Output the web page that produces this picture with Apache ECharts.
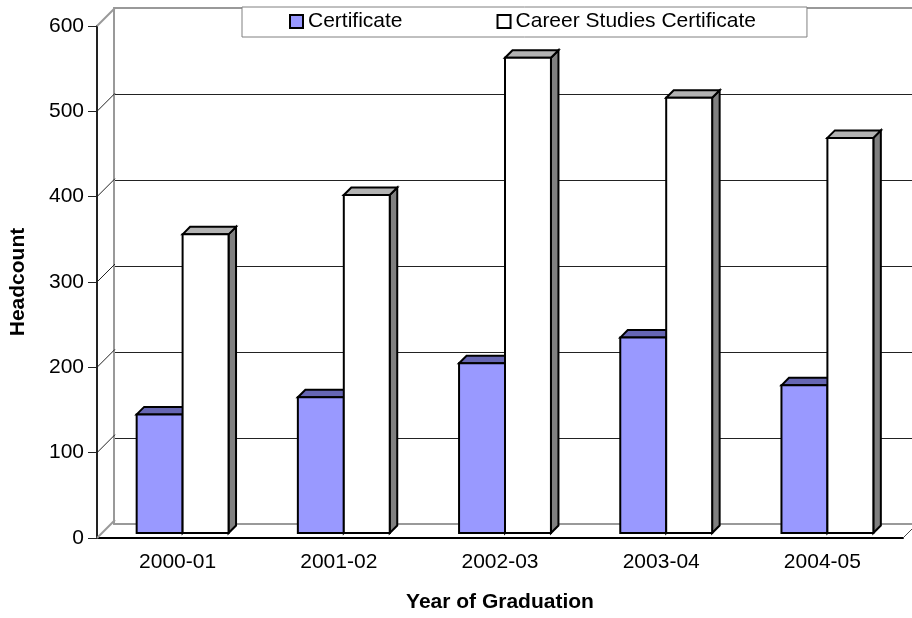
<!DOCTYPE html>
<html>
<head>
<meta charset="utf-8">
<script src="https://cdn.jsdelivr.net/npm/echarts@6/dist/echarts.min.js"></script>
<style>
  html, body { margin: 0; padding: 0; background: #fff; }
  #chart { width: 912px; height: 618px; }
</style>
</head>
<body>
<div id="chart"></div>
<script>
  var categories = ['2000-01', '2001-02', '2002-03', '2003-04', '2004-05'];
  var certificate = [139, 159, 199, 229, 173];
  var careerStudies = [350, 396, 557, 510, 463];
  var yTicks = [0, 100, 200, 300, 400, 500, 600];

  var FONT = "'Liberation Sans', Arial, sans-serif";
  var WALL = 18;        // depth of the fake 3d box
  var BAR_FRONT = 5;    // bar front face depth
  var BAR_DEPTH = 7.5;  // bar thickness
  var BAR_RATIO = 0.285;

  var chart = echarts.init(document.getElementById('chart'));

  function barRenderer(slot, front, top, side) {
    return function (params, api) {
      var idx = api.value(0);
      var p = api.coord([idx, api.value(1)]);
      var b = api.coord([idx, 0]);
      var w = api.size([1, 0])[0] * BAR_RATIO;
      var x0 = p[0] + BAR_FRONT - w + slot * w;
      var yt = p[1] - BAR_FRONT;
      var yb = b[1] - BAR_FRONT;
      var d = BAR_DEPTH;
      var st = { stroke: '#000', lineWidth: 2, lineJoin: 'miter' };
      return {
        type: 'group',
        children: [
          { type: 'polygon', shape: { points: [[x0 + w, yt], [x0 + w + d, yt - d], [x0 + w + d, yb - d], [x0 + w, yb]] },
            style: Object.assign({ fill: side }, st) },
          { type: 'polygon', shape: { points: [[x0, yt], [x0 + d, yt - d], [x0 + w + d, yt - d], [x0 + w, yt]] },
            style: Object.assign({ fill: top }, st) },
          { type: 'rect', shape: { x: x0, y: yt, width: w, height: yb - yt },
            style: Object.assign({ fill: front }, st) }
        ]
      };
    };
  }

  function edgeRenderer(params, api) {
    var v = api.value(1);
    var p = api.coord([0, v]);
    var cs = params.coordSys;
    var x = cs.x;
    var outer = (v === yTicks[0] || v === yTicks[yTicks.length - 1]);
    var lines = [{
      type: 'line',
      shape: { x1: x, y1: p[1], x2: x + WALL, y2: p[1] - WALL },
      style: { stroke: outer ? '#999' : '#222', lineWidth: outer ? 2 : 1 }
    }];
    if (v === 0) {
      lines.push({
        type: 'line',
        shape: { x1: cs.x + cs.width, y1: p[1], x2: cs.x + cs.width + WALL, y2: p[1] - WALL },
        style: { stroke: '#444', lineWidth: 1 }
      });
    }
    return { type: 'group', children: lines };
  }

  chart.setOption({
    animation: false,
    textStyle: { fontFamily: FONT },
    legend: {
      left: 242,
      top: 7,
      padding: [4, 51, 5, 47],
      itemGap: 94,
      itemWidth: 13,
      itemHeight: 13,
      icon: 'rect',
      backgroundColor: '#fff',
      borderColor: '#808080',
      borderWidth: 1,
      textStyle: { fontSize: 21, color: '#000', fontFamily: FONT },
      data: [
        { name: 'Certificate', itemStyle: { color: '#9999FF', borderColor: '#000', borderWidth: 2 } },
        { name: 'Career Studies Certificate', itemStyle: { color: '#fff', borderColor: '#000', borderWidth: 2 } }
      ]
    },
    grid: [
      { left: 96, top: 26, width: 807, height: 516 },
      { left: 96 + WALL, top: 26 - WALL, width: 807, height: 516 }
    ],
    xAxis: [
      {
        type: 'category',
        gridIndex: 0,
        data: categories,
        name: 'Year of Graduation',
        nameLocation: 'middle',
        nameGap: 54,
        nameTextStyle: { fontSize: 21, fontWeight: 'bold', color: '#000', fontFamily: FONT },
        axisLine: { lineStyle: { color: '#000', width: 2 } },
        axisTick: { length: 10, lineStyle: { color: '#222' } },
        axisLabel: { fontSize: 21, color: '#000', margin: 14, fontFamily: FONT },
        splitLine: { show: false }
      },
      {
        type: 'category',
        gridIndex: 1,
        data: categories,
        axisLine: { lineStyle: { color: '#999', width: 2 } },
        axisTick: { show: false },
        axisLabel: { show: false }
      },
      {
        type: 'category',
        gridIndex: 1,
        position: 'top',
        data: categories,
        axisLine: { lineStyle: { color: '#999', width: 2 } },
        axisTick: { show: false },
        axisLabel: { show: false }
      }
    ],
    yAxis: [
      {
        type: 'value',
        gridIndex: 0,
        min: 0,
        max: 600,
        interval: 100,
        name: 'Headcount',
        nameLocation: 'middle',
        nameRotate: 90,
        nameGap: 68,
        nameTextStyle: { fontSize: 21, fontWeight: 'bold', color: '#000', fontFamily: FONT },
        axisLine: { show: true, lineStyle: { color: '#222', width: 2 } },
        axisTick: { show: true, length: 9, lineStyle: { color: '#222' } },
        axisLabel: { fontSize: 21, color: '#000', margin: 13, fontFamily: FONT },
        splitLine: { show: false }
      },
      {
        type: 'value',
        gridIndex: 1,
        min: 0,
        max: 600,
        interval: 100,
        axisLine: { show: true, lineStyle: { color: '#999', width: 2 } },
        axisTick: { show: false },
        axisLabel: { show: false },
        splitLine: { show: true, showMinLine: false, showMaxLine: false, lineStyle: { color: '#222', width: 1 } }
      }
    ],
    series: [
      {
        type: 'custom',
        name: 'edges',
        xAxisIndex: 0,
        yAxisIndex: 0,
        silent: true,
        z: 1,
        renderItem: edgeRenderer,
        data: yTicks.map(function (v) { return [0, v]; })
      },
      {
        type: 'custom',
        name: 'Certificate',
        xAxisIndex: 0,
        yAxisIndex: 0,
        z: 3,
        itemStyle: { color: '#9999FF' },
        renderItem: barRenderer(0, '#9999FF', '#6666B3', '#6666B3'),
        data: certificate.map(function (v, i) { return [i, v]; })
      },
      {
        type: 'custom',
        name: 'Career Studies Certificate',
        xAxisIndex: 0,
        yAxisIndex: 0,
        z: 4,
        itemStyle: { color: '#fff' },
        renderItem: barRenderer(1, '#fff', '#B3B3B3', '#808080'),
        data: careerStudies.map(function (v, i) { return [i, v]; })
      }
    ]
  });
</script>
</body>
</html>
